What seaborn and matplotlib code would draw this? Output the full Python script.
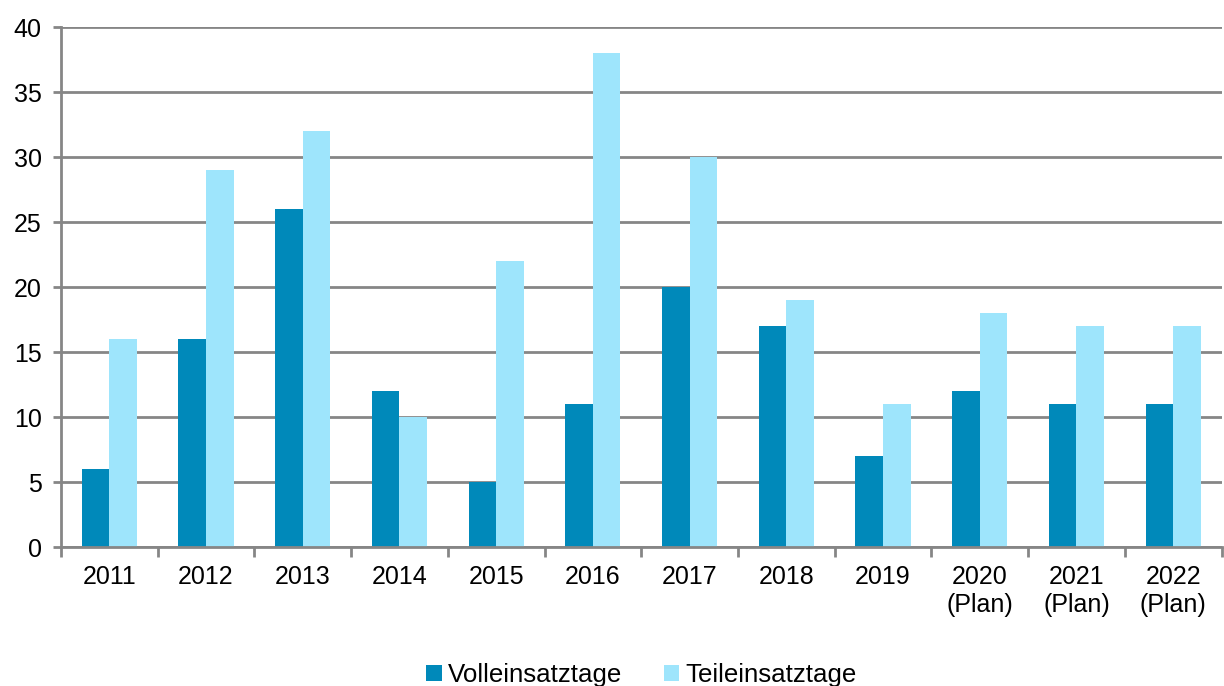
import pandas as pd
import seaborn as sns
import matplotlib.pyplot as plt

years = ['2011', '2012', '2013', '2014', '2015', '2016', '2017', '2018', '2019',
         '2020\n(Plan)', '2021\n(Plan)', '2022\n(Plan)']
volleinsatz = [6, 16, 26, 12, 5, 11, 20, 17, 7, 12, 11, 11]
teileinsatz = [16, 29, 32, 10, 22, 38, 30, 19, 11, 18, 17, 17]
series_names = ['Volleinsatztage', 'Teileinsatztage']
colors = ['#0089BA', '#9EE5FC']

df = pd.DataFrame({
    'Jahr': years * 2,
    'Tage': volleinsatz + teileinsatz,
    'Art': [series_names[0]] * len(years) + [series_names[1]] * len(years),
})

sns.set_style('white')
plt.rcParams['font.family'] = ['Liberation Sans', 'DejaVu Sans']

fig = plt.figure(figsize=(12.24, 6.86), dpi=100)
ax = fig.add_axes([0.0498, 0.2026, 0.9482, 0.758])

sns.barplot(data=df, x='Jahr', y='Tage', hue='Art', palette=colors,
            width=0.57, saturation=1, ax=ax, linewidth=0)

grid_color = '#868686'
ax.set_ylim(0, 40)
ax.set_yticks(range(0, 41, 5))
ax.set_xlim(-0.5, len(years) - 0.5)
ax.yaxis.grid(True, color=grid_color, linewidth=2)
ax.set_axisbelow(True)
for side in ['top', 'right']:
    ax.spines[side].set_visible(False)
for side in ['left', 'bottom']:
    ax.spines[side].set_color(grid_color)
    ax.spines[side].set_linewidth(2)

ax.set_xlabel('')
ax.set_ylabel('')
ax.set_xticks(range(len(years)))
ax.set_xticklabels(years, linespacing=1.2)
ax.set_xticks([i - 0.5 for i in range(len(years) + 1)], minor=True)
ax.tick_params(axis='x', which='major', bottom=True, length=0, pad=13,
               labelsize=18, labelcolor='black')
ax.tick_params(axis='x', which='minor', bottom=True, length=7, width=2, color=grid_color)
ax.tick_params(axis='y', left=True, length=6, width=2, color=grid_color,
               labelsize=18, labelcolor='black', pad=8)

handles, labels = ax.get_legend_handles_labels()
ax.get_legend().remove()
fig.legend(handles, labels, loc='center', bbox_to_anchor=(0.524, 0.016),
           ncol=2, frameon=False, fontsize=18.6, handlelength=0.6, handleheight=0.6,
           handletextpad=0.25, columnspacing=1.6, borderpad=0, labelcolor='black')

fig.savefig('out.png', dpi=100)
